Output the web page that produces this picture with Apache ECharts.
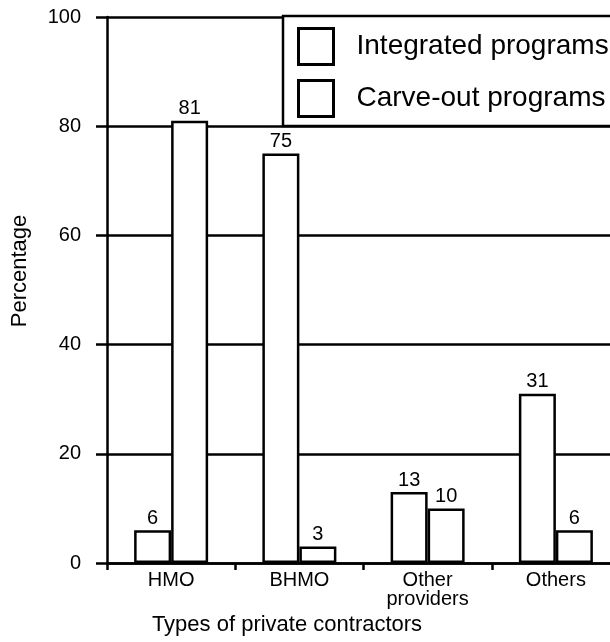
<!DOCTYPE html>
<html>
<head>
<meta charset="utf-8">
<script src="https://cdn.jsdelivr.net/npm/echarts@6/dist/echarts.min.js"></script>
<style>
html,body{margin:0;padding:0;background:#fff;}
#main{width:610px;height:642px;}
</style>
</head>
<body>
<div id="main"></div>
<script>
var categories = ['HMO', 'BHMO', 'Other\nproviders', 'Others'];
var integrated = [6, 75, 13, 31];
var carveOut = [81, 3, 10, 6];
var seriesNames = ['Integrated programs', 'Carve-out programs'];
var yTicks = {min: 0, max: 100, interval: 20};

var FONT = '"Liberation Sans", Arial, sans-serif';
var chart = echarts.init(document.getElementById('main'), null, {renderer: 'canvas'});

function barSeries(name, data) {
  return {
    name: name,
    type: 'bar',
    data: data,
    barWidth: 37,
    barGap: '0%',
    itemStyle: {color: '#ffffff', borderColor: '#000000', borderWidth: 2.5},
    label: {show: true, position: 'top', distance: 2, color: '#000', fontFamily: FONT, fontSize: 20},
    emphasis: {disabled: true}
  };
}

chart.setOption({
  animation: false,
  backgroundColor: '#ffffff',
  grid: {left: 107, top: 17, width: 513, height: 546, outerBoundsMode: 'none', containLabel: false},
  legend: {
    orient: 'vertical',
    left: 283,
    top: 16,
    data: seriesNames,
    icon: 'rect',
    itemWidth: 35,
    itemHeight: 36,
    itemGap: 13,
    padding: [11, 20, 8, 14],
    borderColor: '#000',
    borderWidth: 2.5,
    backgroundColor: '#ffffff',
    itemStyle: {color: '#ffffff', borderColor: '#000', borderWidth: 3},
    textStyle: {color: '#000', fontFamily: FONT, fontSize: 28, padding: [0, 0, 0, 18]}
  },
  xAxis: {
    type: 'category',
    data: categories,
    name: 'Types of private contractors',
    nameLocation: 'middle',
    nameGap: 47,
    nameTextStyle: {color: '#000', fontFamily: FONT, fontSize: 22, padding: [0, 153, 0, 0]},
    axisLine: {show: true, lineStyle: {color: '#000', width: 2.5}},
    axisTick: {show: true, length: 7, alignWithLabel: false, lineStyle: {color: '#000', width: 2.5}},
    axisLabel: {color: '#000', fontFamily: FONT, fontSize: 20, margin: 8, lineHeight: 19, interval: 0},
    splitLine: {show: false}
  },
  yAxis: {
    type: 'value',
    min: yTicks.min,
    max: yTicks.max,
    interval: yTicks.interval,
    name: 'Percentage',
    nameLocation: 'middle',
    nameGap: 76,
    nameRotate: 90,
    nameTextStyle: {color: '#000', fontFamily: FONT, fontSize: 22, padding: [0, 0, 0, 38]},
    axisLine: {show: true, lineStyle: {color: '#000', width: 2.5}},
    axisTick: {show: true, length: 11, lineStyle: {color: '#000', width: 2.5}},
    axisLabel: {color: '#000', fontFamily: FONT, fontSize: 20, margin: 26},
    splitLine: {show: true, lineStyle: {color: '#000', width: 2.5}}
  },
  series: [barSeries(seriesNames[0], integrated), barSeries(seriesNames[1], carveOut)]
});
</script>
</body>
</html>
